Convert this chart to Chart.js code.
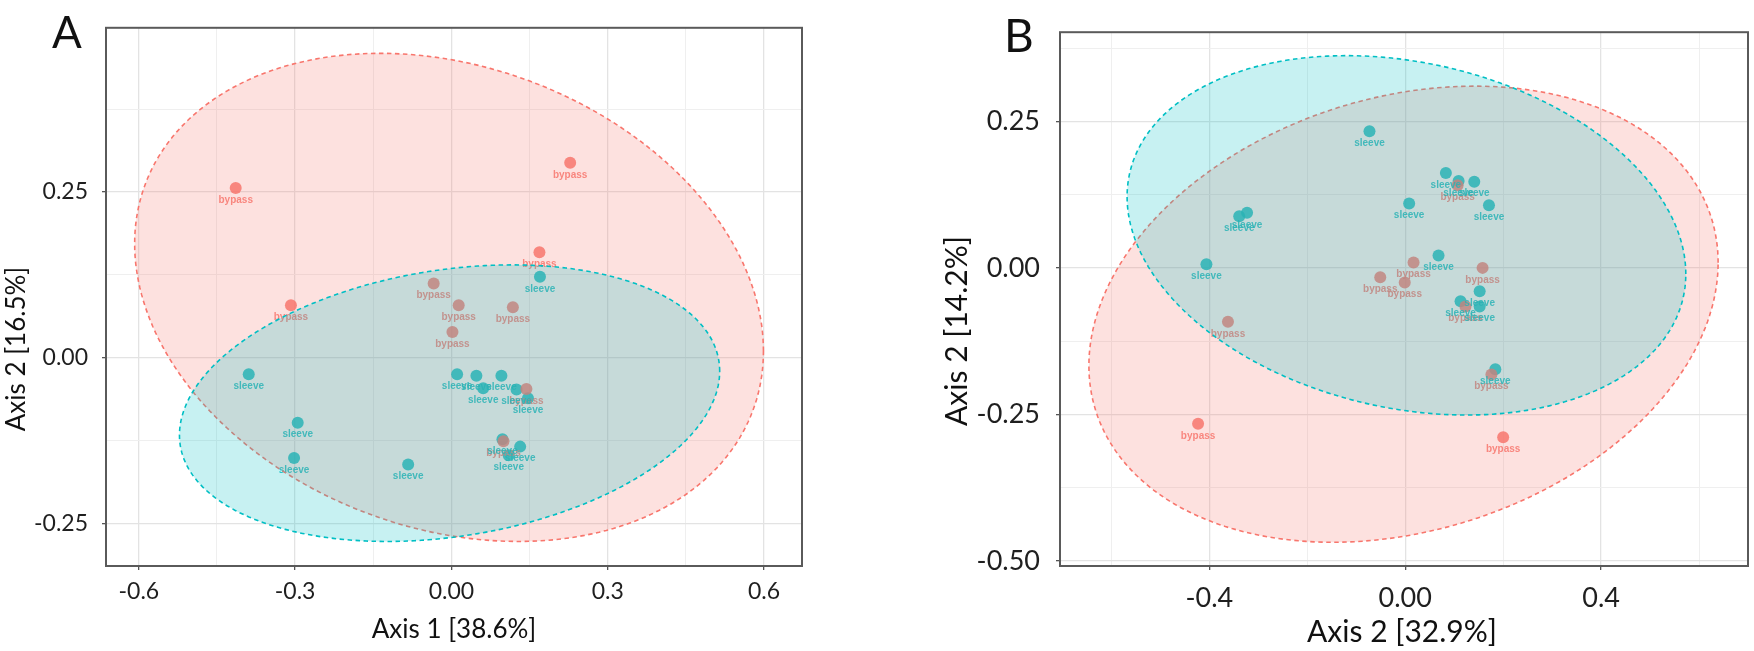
<!DOCTYPE html>
<html>
<head>
<meta charset="utf-8">
<script src="https://cdn.jsdelivr.net/npm/chart.js@4.4.1/dist/chart.umd.min.js"></script>
<style>
  html, body { margin: 0; padding: 0; background: #fff; }
  #wrap { position: relative; width: 1754px; height: 651px; overflow: hidden; }
  #chartA { position: absolute; left: 0; top: 0; }
  #chartB { position: absolute; left: 880px; top: 0; }
</style>
</head>
<body>
<div id="wrap">
  <canvas id="chartA" width="820" height="651"></canvas>
  <canvas id="chartB" width="874" height="651"></canvas>
</div>
<script>
// ---- panel A data ----
const aBypassX = [-0.414, 0.228, 0.169, -0.308, -0.034, 0.014, 0.118, 0.002, 0.144, 0.100];
const aBypassY = [0.256, 0.294, 0.159, 0.079, 0.112, 0.079, 0.076, 0.039, -0.047, -0.126];
const aSleeveX = [0.170, -0.389, -0.295, -0.302, -0.083, 0.011, 0.048, 0.061, 0.096, 0.125, 0.147, 0.098, 0.132, 0.110];
const aSleeveY = [0.122, -0.025, -0.098, -0.151, -0.161, -0.025, -0.027, -0.046, -0.027, -0.048, -0.061, -0.123, -0.134, -0.147];
// ellipse: [centre x, centre y, half range x, half range y, cos of phase]
const aBypassEllipse = [-0.0045, 0.091, 0.6035, 0.368, -0.22];
const aSleeveEllipse = [-0.0035, -0.0685, 0.5185, 0.2085, 0.231];
const aXRange = [-0.663, 0.673];
const aYRange = [-0.314, 0.4975];
const aXMajor = [-0.6, -0.3, 0, 0.3, 0.6];
const aXLabels = ["-0.6", "-0.3", "0.00", "0.3", "0.6"];
const aXMinor = [-0.45, -0.15, 0.15, 0.45];
const aYMajor = [-0.25, 0, 0.25];
const aYLabels = ["-0.25", "0.00", "0.25"];
const aYMinor = [-0.125, 0.125, 0.375];

// ---- panel B data ----
const bBypassX = [0.017, -0.051, -0.001, 0.158, 0.107, 0.123, -0.362, 0.176, -0.423, 0.200];
const bBypassY = [0.009, -0.016, -0.025, 0.000, 0.141, -0.066, -0.092, -0.182, -0.266, -0.289];
const bSleeveX = [-0.073, 0.083, 0.109, 0.141, 0.008, 0.171, -0.339, -0.323, -0.406, 0.068, 0.152, 0.113, 0.152, 0.184];
const bSleeveY = [0.233, 0.162, 0.148, 0.147, 0.110, 0.107, 0.088, 0.094, 0.006, 0.021, -0.040, -0.057, -0.066, -0.173];
const bBypassEllipse = [-0.0035, -0.079, 0.6425, 0.389, 0.226];
const bSleeveEllipse = [0.0025, 0.0555, 0.5705, 0.3065, -0.215];
const bXRange = [-0.705, 0.700];
const bYRange = [-0.5085, 0.402];
const bXMajor = [-0.4, 0, 0.4];
const bXLabels = ["-0.4", "0.00", "0.4"];
const bXMinor = [-0.6, -0.2, 0.2, 0.6];
const bYMajor = [-0.5, -0.25, 0, 0.25];
const bYLabels = ["-0.50", "-0.25", "0.00", "0.25"];
const bYMinor = [-0.375, -0.125, 0.125, 0.375];

const RED = "248,118,109";
const TEAL = "0,191,196";

function isIn(list, v) {
    return list.some((m) => Math.abs(m - v) < 1e-9);
}

function axis(range, major, labels, minor, p, horizontal) {
    return {
        type: "linear",
        min: range[0],
        max: range[1],
        afterBuildTicks: (s) => {
            s.ticks = major.concat(minor).sort((a, b) => a - b).map((v) => ({ value: v }));
        },
        afterFit: (s) => {
            if (horizontal) s.height = p.xAxisH;
            else s.width = p.yAxisW;
        },
        border: { display: false },
        grid: {
            color: (c) => (c.tick && isIn(major, c.tick.value) ? "#e3e3e3" : "#efefef"),
            lineWidth: (c) => (c.tick && isIn(major, c.tick.value) ? 1.3 : 1),
            tickColor: (c) => (c.tick && isIn(major, c.tick.value) ? "#555" : "rgba(0,0,0,0)"),
            tickLength: 4,
        },
        ticks: {
            autoSkip: false,
            maxRotation: 0,
            color: "#1f1f1f",
            font: { family: "Lato", size: p.tickSize },
            padding: horizontal ? p.xPad : p.yPad,
            callback: (v) => {
                const i = major.findIndex((m) => Math.abs(m - v) < 1e-9);
                return i >= 0 ? labels[i] : "";
            },
        },
    };
}

function ellipsePath(ctx, x, y, e) {
    const [cx, cy, rx, ry, cp] = e;
    const phi = Math.acos(cp);
    ctx.beginPath();
    for (let k = 0; k <= 240; k++) {
        const t = (k / 240) * Math.PI * 2;
        const px = x.getPixelForValue(cx + rx * Math.cos(t));
        const py = y.getPixelForValue(cy + ry * Math.cos(t - phi));
        if (k === 0) ctx.moveTo(px, py);
        else ctx.lineTo(px, py);
    }
    ctx.closePath();
}

function panelPlugin(p) {
    return {
        id: "panel" + p.letter,
        afterDatasetsDraw(chart) {
            const { ctx, chartArea: a, scales: { x, y } } = chart;
            ctx.save();
            ctx.beginPath();
            ctx.rect(a.left, a.top, a.right - a.left, a.bottom - a.top);
            ctx.clip();
            // point labels
            ctx.font = "bold 10px 'Liberation Sans'";
            ctx.textAlign = "center";
            ctx.textBaseline = "middle";
            p.groups.forEach((g) => {
                ctx.fillStyle = `rgba(${g.rgb},0.85)`;
                g.xs.forEach((v, i) => {
                    ctx.fillText(g.name, x.getPixelForValue(v), y.getPixelForValue(g.ys[i]) + 12);
                });
            });
            // ellipses on top (red first, teal last)
            p.ellipses.forEach((el) => {
                ellipsePath(ctx, x, y, el.e);
                ctx.fillStyle = `rgba(${el.rgb},0.22)`;
                ctx.fill();
                ctx.setLineDash([4.5, 3.5]);
                ctx.lineWidth = 1.6;
                ctx.strokeStyle = `rgb(${el.rgb})`;
                ctx.stroke();
                ctx.setLineDash([]);
            });
            ctx.restore();
        },
        afterDraw(chart) {
            const { ctx, chartArea: a } = chart;
            ctx.save();
            ctx.strokeStyle = "#5a5a5a";
            ctx.lineWidth = 2;
            ctx.strokeRect(a.left, a.top, a.right - a.left, a.bottom - a.top);
            ctx.fillStyle = "#111";
            ctx.textBaseline = "alphabetic";
            ctx.textAlign = "left";
            ctx.font = `${p.letterSize}px Lato`;
            ctx.fillText(p.letter, p.letterX, p.letterY);
            ctx.textAlign = "center";
            ctx.textBaseline = "middle";
            ctx.font = `${p.titleSize}px Lato`;
            ctx.fillText(p.xTitle, p.xTitleX, p.xTitleY);
            ctx.translate(p.yTitleX, p.yTitleY);
            ctx.rotate(-Math.PI / 2);
            ctx.fillText(p.yTitle, 0, 0);
            ctx.restore();
        },
    };
}

function makePanel(id, p) {
    const datasets = p.groups.map((g) => ({
        label: g.name,
        data: g.xs.map((v, i) => ({ x: v, y: g.ys[i] })),
        backgroundColor: `rgba(${g.rgb},0.85)`,
        borderWidth: 0,
        pointRadius: 6,
    }));
    return new Chart(document.getElementById(id), {
        type: "scatter",
        data: { datasets },
        options: {
            responsive: false,
            animation: false,
            devicePixelRatio: 1,
            events: [],
            layout: { padding: { top: p.padTop, right: p.padRight, left: 0, bottom: 0 } },
            plugins: { legend: { display: false }, tooltip: { enabled: false } },
            scales: {
                x: axis(p.xRange, p.xMajor, p.xLabels, p.xMinor, p, true),
                y: axis(p.yRange, p.yMajor, p.yLabels, p.yMinor, p, false),
            },
        },
        plugins: [panelPlugin(p)],
    });
}

makePanel("chartA", {
    letter: "A", letterSize: 44, letterX: 52, letterY: 48,
    xTitle: "Axis 1 [38.6%]", yTitle: "Axis 2 [16.5%]", titleSize: 26,
    xTitleX: 454, xTitleY: 630, yTitleX: 17, yTitleY: 349,
    tickSize: 23, xPad: 8, yPad: 14, xAxisH: 85, yAxisW: 106, padTop: 26, padRight: 18,
    xRange: aXRange, yRange: aYRange,
    xMajor: aXMajor, xLabels: aXLabels, xMinor: aXMinor,
    yMajor: aYMajor, yLabels: aYLabels, yMinor: aYMinor,
    groups: [
        { name: "bypass", rgb: RED, xs: aBypassX, ys: aBypassY },
        { name: "sleeve", rgb: TEAL, xs: aSleeveX, ys: aSleeveY },
    ],
    ellipses: [
        { rgb: RED, e: aBypassEllipse },
        { rgb: TEAL, e: aSleeveEllipse },
    ],
});

makePanel("chartB", {
    letter: "B", letterSize: 46, letterX: 124, letterY: 52,
    xTitle: "Axis 2 [32.9%]", yTitle: "Axis 2 [14.2%]", titleSize: 30,
    xTitleX: 522, xTitleY: 632, yTitleX: 77, yTitleY: 331,
    tickSize: 27, xPad: 12, yPad: 16, xAxisH: 85, yAxisW: 180, padTop: 29, padRight: 3,
    xRange: bXRange, yRange: bYRange,
    xMajor: bXMajor, xLabels: bXLabels, xMinor: bXMinor,
    yMajor: bYMajor, yLabels: bYLabels, yMinor: bYMinor,
    groups: [
        { name: "bypass", rgb: RED, xs: bBypassX, ys: bBypassY },
        { name: "sleeve", rgb: TEAL, xs: bSleeveX, ys: bSleeveY },
    ],
    ellipses: [
        { rgb: RED, e: bBypassEllipse },
        { rgb: TEAL, e: bSleeveEllipse },
    ],
});
</script>
</body>
</html>
